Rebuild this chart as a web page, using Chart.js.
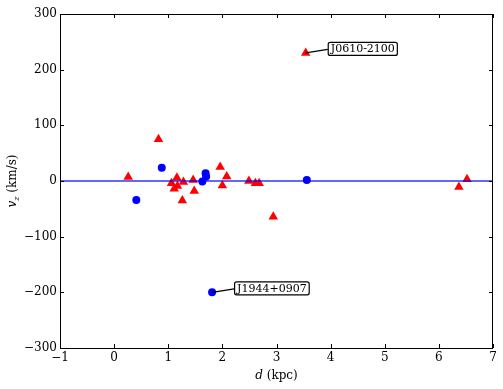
<!DOCTYPE html>
<html>
<head>
<meta charset="utf-8">
<script src="https://cdn.jsdelivr.net/npm/chart.js@4/dist/chart.umd.min.js"></script>
<style>
  html, body { margin: 0; padding: 0; background: #fff; }
  #wrap { width: 503px; height: 389px; }
</style>
</head>
<body>
<div id="wrap"><canvas id="chart"></canvas></div>
<script>
// Red triangles
const triD = [0.82, 0.26, 1.16, 1.06, 1.11, 1.17, 1.28, 1.46, 1.48, 1.26, 1.96, 2.08, 2.00, 2.49, 2.61, 2.68, 2.94, 3.54, 6.37, 6.52];
const triV = [75, 7, 6, -4, -14, -9, -2, 2, -18, -35, 25, 8, -8, 0, -4, -4, -64, 230, -11, 3];
// Blue circles
const dotD = [0.88, 0.41, 1.69, 1.70, 1.63, 3.56, 1.81];
const dotV = [24, -34, 14, 8, -1, 2, -200];
// zero line
const lineD = [-1, 7];
const lineV = [0, 0];
// labelled pulsars
const noteNames = ['J0610-2100', 'J1944+0907'];
const noteD = [3.54, 1.81];
const noteV = [230, -200];
// ticks
const xTicks = [-1, 0, 1, 2, 3, 4, 5, 6, 7];
const yTicks = [-300, -200, -100, 0, 100, 200, 300];

const FONT = '"DejaVu Serif", serif';
const toPts = (xs, ys) => xs.map((x, i) => ({ x: x, y: ys[i] }));

// inward ticks on all four sides + axis titles + annotations
const decor = {
    id: 'decor',
    afterDraw(chart) {
        const ctx = chart.ctx;
        const a = chart.chartArea;
        const xs = chart.scales.x, ys = chart.scales.y;
        ctx.save();
        ctx.strokeStyle = '#000';
        ctx.lineWidth = 1;
        ctx.beginPath();
        xTicks.forEach(t => {
            const px = Math.round(xs.getPixelForValue(t)) + 0.5;
            ctx.moveTo(px, a.bottom); ctx.lineTo(px, a.bottom - 4);
            ctx.moveTo(px, a.top); ctx.lineTo(px, a.top + 4);
        });
        yTicks.forEach(t => {
            const py = Math.round(ys.getPixelForValue(t)) + 0.5;
            ctx.moveTo(a.left, py); ctx.lineTo(a.left + 4, py);
            ctx.moveTo(a.right, py); ctx.lineTo(a.right - 4, py);
        });
        ctx.stroke();
        ctx.strokeRect(a.left + 0.5, a.top + 0.5, a.right - a.left - 1, a.bottom - a.top);

        // x title
        ctx.fillStyle = '#000';
        ctx.textBaseline = 'alphabetic';
        ctx.font = 'italic 12px ' + FONT;
        const dW = ctx.measureText('d').width;
        ctx.font = '12px ' + FONT;
        const restW = ctx.measureText(' (kpc)').width;
        let sx = (a.left + a.right) / 2 - (dW + restW) / 2;
        ctx.font = 'italic 12px ' + FONT;
        ctx.fillText('d', sx, 379);
        ctx.font = '12px ' + FONT;
        ctx.fillText(' (kpc)', sx + dW, 379);

        // y title
        ctx.save();
        ctx.translate(16, (a.top + a.bottom) / 2);
        ctx.rotate(-Math.PI / 2);
        ctx.font = 'italic 12px ' + FONT;
        const vW = ctx.measureText('v').width;
        ctx.font = 'italic 8px ' + FONT;
        const zW = ctx.measureText('z').width;
        ctx.font = '12px ' + FONT;
        const kW = ctx.measureText(' (km/s)').width;
        let tx = -(vW + zW + kW) / 2;
        ctx.font = 'italic 12px ' + FONT;
        ctx.fillText('v', tx, 0);
        ctx.font = 'italic 8px ' + FONT;
        ctx.fillText('z', tx + vW, 3);
        ctx.font = '12px ' + FONT;
        ctx.fillText(' (km/s)', tx + vW + zW, 0);
        ctx.restore();

        // annotations
        ctx.font = '11px ' + FONT;
        ctx.lineWidth = 1.2;
        noteNames.forEach((name, i) => {
            const px = xs.getPixelForValue(noteD[i]);
            const py = ys.getPixelForValue(noteV[i]);
            const bx = px + 22, by = py - 11;
            const w = ctx.measureText(name).width + 5, h = 13;
            ctx.beginPath();
            ctx.moveTo(px, py);
            ctx.lineTo(bx, by + h / 2 + 1);
            ctx.stroke();
            ctx.beginPath();
            ctx.roundRect(bx + 0.5, by + 0.5, w, h, 2);
            ctx.fillStyle = '#fff';
            ctx.fill();
            ctx.stroke();
            ctx.fillStyle = '#000';
            ctx.textBaseline = 'middle';
            ctx.fillText(name, bx + 3, by + h / 2 + 1);
        });
        ctx.restore();
    }
};

const minus = v => String(v).replace('-', '\u2212');

new Chart(document.getElementById('chart'), {
    type: 'scatter',
    data: {
        datasets: [{
            label: 'zero',
            type: 'line',
            data: toPts(lineD, lineV),
            borderColor: 'rgba(0, 0, 255, 0.6)',
            borderWidth: 2,
            pointRadius: 0,
            order: 0
        }, {
            label: 'triangles',
            data: toPts(triD, triV),
            pointStyle: 'triangle',
            pointRadius: 5.5,
            backgroundColor: '#ff0000',
            borderColor: '#ff0000',
            borderWidth: 0,
            order: 2
        }, {
            label: 'circles',
            data: toPts(dotD, dotV),
            pointStyle: 'circle',
            pointRadius: 4,
            backgroundColor: '#0000ff',
            borderColor: '#0000ff',
            borderWidth: 0,
            order: 1
        }]
    },
    options: {
        responsive: true,
        maintainAspectRatio: false,
        animation: false,
        layout: { padding: { top: 14, right: 10, left: 0, bottom: 0 } },
        plugins: {
            legend: { display: false },
            tooltip: { enabled: false }
        },
        scales: {
            x: {
                type: 'linear',
                min: -1,
                max: 7,
                afterFit(s) { s.height = 41; },
                afterBuildTicks(s) { s.ticks = xTicks.map(v => ({ value: v })); },
                grid: { display: false, drawTicks: false },
                border: { display: false },
                ticks: {
                    padding: 3,
                    color: '#000',
                    font: { family: FONT, size: 12 },
                    callback: v => minus(v)
                }
            },
            y: {
                type: 'linear',
                min: -300,
                max: 300,
                afterFit(s) { s.width = 60; },
                afterBuildTicks(s) { s.ticks = yTicks.map(v => ({ value: v })); },
                grid: { display: false, drawTicks: false },
                border: { display: false },
                ticks: {
                    padding: 3,
                    color: '#000',
                    font: { family: FONT, size: 12 },
                    callback: v => minus(v)
                }
            }
        }
    },
    plugins: [decor]
});
</script>
</body>
</html>
